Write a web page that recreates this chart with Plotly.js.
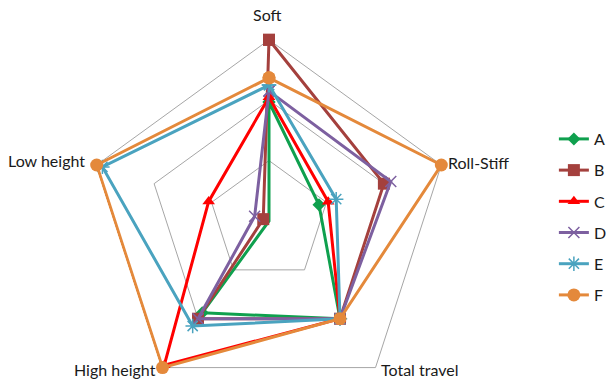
<!DOCTYPE html>
<html>
<head>
<meta charset="utf-8">
<script src="https://cdn.plot.ly/plotly-3.0.1.min.js"></script>
<style>
  html, body { margin: 0; padding: 0; overflow: hidden; background: #fff; }
  #chart { width: 606px; height: 404px; }
</style>
</head>
<body>
<div id="chart"></div>
<script>
// Suspension setups compared on five characteristics
const categories = ["Soft", "Roll-Stiff", "Total travel", "High height", "Low height"];
const seriesNames = ["A", "B", "C", "D", "E", "F"];

const valuesA = [1.97, 0.87, 2.0, 1.88, 0.0];
const valuesB = [3.0, 2.0, 2.0, 2.0, 0.1];
const valuesC = [2.05, 1.03, 2.0, 2.95, 1.05];
const valuesD = [2.15, 2.12, 2.0, 2.0, 0.25];
const valuesE = [2.25, 1.17, 2.0, 2.15, 2.9];
const valuesF = [2.37, 3.0, 2.0, 3.0, 3.0];

const seriesValues = [valuesA, valuesB, valuesC, valuesD, valuesE, valuesF];

const colors = ["#0FA04E", "#A4403D", "#FF0000", "#7D60A0", "#4AA3BF", "#E4893B"];
const symbols = ["diamond", "square", "triangle-up", "x-thin", "asterisk", "circle"];
const sizes = [10, 12, 11, 11, 12, 13];

const font = { family: "Lato, 'Open Sans', sans-serif", size: 16, color: "#1a1a1a" };

const traces = seriesNames.map((name, i) => {
  const lineOnly = symbols[i] === "x-thin" || symbols[i] === "asterisk";
  return {
    type: "scatterpolar",
    mode: "lines+markers",
    name: name,
    legendgroup: name,
    // repeat the first point so every outline is closed
    r: seriesValues[i].concat([seriesValues[i][0]]),
    theta: categories.concat([categories[0]]),
    line: { color: colors[i], width: 3 },
    marker: {
      symbol: symbols[i],
      size: sizes[i],
      color: colors[i],
      line: { color: colors[i], width: lineOnly ? 1.5 : 0 }
    },
    cliponaxis: false
  };
});

// Category labels sit beside each vertex of the outer pentagon
const labelPlacement = [
  { x: 0.497, y: 1.063, xanchor: "center" },
  { x: 0.984, y: 0.661, xanchor: "left" },
  { x: 0.801, y: 0.093, xanchor: "left" },
  { x: 0.197, y: 0.093, xanchor: "right" },
  { x: 0.003, y: 0.664, xanchor: "right" }
];
const annotations = categories.map((c, i) => ({
  text: c,
  xref: "paper", yref: "paper",
  x: labelPlacement[i].x, y: labelPlacement[i].y,
  xanchor: labelPlacement[i].xanchor, yanchor: "middle",
  showarrow: false,
  font: font
}));

const layout = {
  width: 606,
  height: 404,
  margin: { l: 86, r: 154, t: 38, b: 0 },
  paper_bgcolor: "#ffffff",
  plot_bgcolor: "#ffffff",
  font: font,
  showlegend: true,
  legend: {
    xref: "container", yref: "container",
    x: 0.914, xanchor: "left",
    y: 0.698, yanchor: "top",
    font: font,
    tracegroupgap: 7.4,
    itemwidth: 30,
    bgcolor: "rgba(0,0,0,0)"
  },
  annotations: annotations,
  polar: {
    domain: { x: [0, 1], y: [0, 1] },
    bgcolor: "#ffffff",
    gridshape: "linear",
    // a little headroom past the outer ring keeps full-scale outlines unclipped
    radialaxis: {
      range: [0, 3.03],
      tickvals: [1, 2, 3],
      showticklabels: false,
      ticks: "",
      showline: false,
      gridcolor: "#A6A6A6",
      gridwidth: 1,
      layer: "below traces"
    },
    angularaxis: {
      type: "category",
      categoryarray: categories,
      rotation: 90,
      direction: "clockwise",
      showgrid: false,
      showticklabels: false,
      ticks: "",
      showline: false,
      layer: "below traces"
    }
  }
};

Plotly.newPlot("chart", traces, layout, { displayModeBar: false, staticPlot: true });
</script>
</body>
</html>
